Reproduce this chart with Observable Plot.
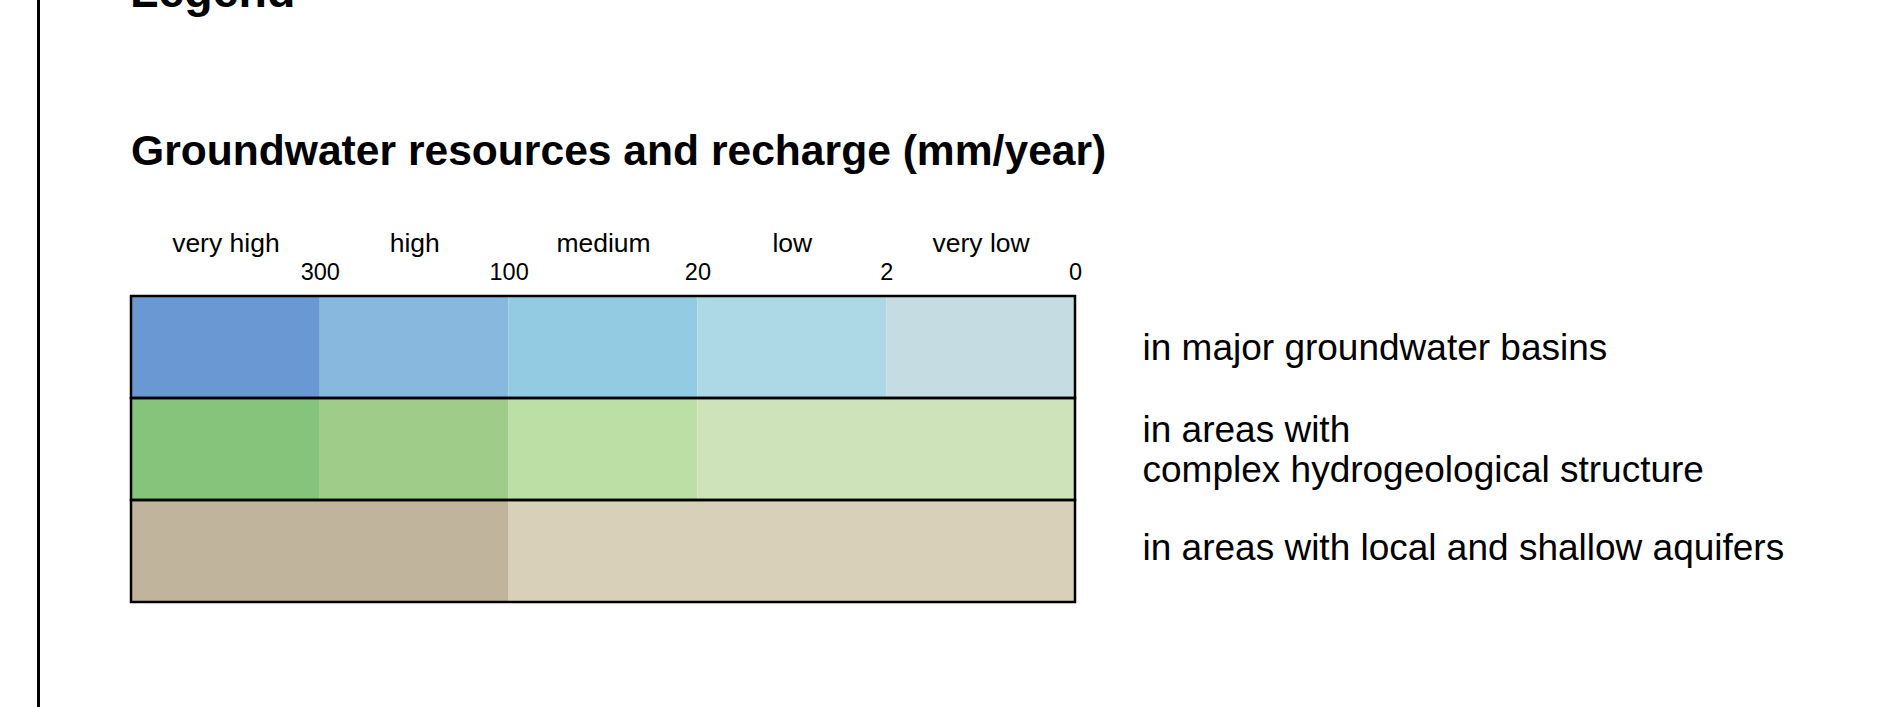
<!DOCTYPE html>
<html>
<head>
<meta charset="utf-8">
<script src="https://cdn.jsdelivr.net/npm/d3@7"></script>
<script src="https://cdn.jsdelivr.net/npm/@observablehq/plot@0.6"></script>
<style>
  html, body { margin: 0; padding: 0; background: #fff; }
  #page { position: relative; width: 1883px; height: 707px; overflow: hidden; font-family: "Liberation Sans", Arial, Helvetica, sans-serif; color: #000; }
  #rule { position: absolute; left: 37px; top: 0; width: 2.5px; height: 707px; background: #000; }
  .head { position: absolute; left: 131px; font-weight: bold; line-height: 1; white-space: nowrap; }
  #legendHead { font-size: 46.5px; top: -32px; left: 130px; }
  #title { font-size: 42.6px; top: 129px; left: 131px; }
  #chart { position: absolute; left: 0; top: 0; }
</style>
</head>
<body>
<div id="page">
  <div id="rule"></div>
  <div id="legendHead" class="head">Legend</div>
  <div id="title" class="head">Groundwater resources and recharge (mm/year)</div>
  <div id="chart"></div>
</div>
<script>
// Recharge classes (columns, left to right) and the class boundaries (mm/year)
const categories = ["very high", "high", "medium", "low", "very low"];
const boundaries = ["300", "100", "20", "2", "0"];

// Hydrogeological settings (rows)
const rows = [
  "in major groundwater basins",
  "in areas with\ncomplex hydrogeological structure",
  "in areas with local and shallow aquifers"
];

// Which classes each coloured cell covers, per row
const basinGroups = [["very high"], ["high"], ["medium"], ["low"], ["very low"]];
const complexGroups = [["very high"], ["high"], ["medium"], ["low", "very low"]];
const localGroups = [["very high", "high"], ["medium", "low", "very low"]];

// Cell colours, per row
const basinColors = ["#6a98d3", "#88b8de", "#93cbe2", "#acd9e5", "#c5dde2"];
const complexColors = ["#86c37b", "#9fcc88", "#bcdfa6", "#cee3b9"];
const localColors = ["#c0b49d", "#d9d0b9"];

const rowGroups = [basinGroups, complexGroups, localGroups];
const rowColors = [basinColors, complexColors, localColors];

const cells = [];
rows.forEach((row, r) => {
  rowGroups[r].forEach((g, k) => {
    cells.push({
      row,
      x1: categories.indexOf(g[0]),
      x2: categories.indexOf(g[g.length - 1]) + 1,
      color: rowColors[r][k]
    });
  });
});

const rowLabelOpts = { x: () => categories.length, y: d => d, text: d => d, dx: 67, textAnchor: "start", lineAnchor: "middle", fontSize: 37, lineHeight: 1.08 };

const chart = Plot.plot({
  width: 1883,
  height: 707,
  marginLeft: 131,
  marginRight: 808,
  marginTop: 295.5,
  marginBottom: 105.5,
  style: { fontFamily: "'Liberation Sans', Arial, Helvetica, sans-serif", color: "#000", background: "transparent" },
  x: { domain: [0, categories.length], axis: null },
  y: { domain: rows, padding: 0, axis: null },
  marks: [
    Plot.barX(cells, { x1: "x1", x2: "x2", y: "row", fill: "color", inset: 0 }),
    Plot.barX(rows, { x1: () => 0, x2: () => categories.length, y: d => d, fill: "none", stroke: "#000", strokeWidth: 2.5, inset: 0 }),
    Plot.text(categories, { x: (d, i) => i + 0.5, text: d => d, frameAnchor: "top", lineAnchor: "bottom", dy: -44, fontSize: 26.5 }),
    Plot.text(boundaries, { x: (d, i) => i + 1, text: d => d, frameAnchor: "top", lineAnchor: "bottom", dy: -16, fontSize: 23.5 }),
    Plot.text(rows, { ...rowLabelOpts, filter: (d, i) => i < 2 }),
    Plot.text(rows, { ...rowLabelOpts, filter: (d, i) => i === 2, dy: -4 })
  ]
});
document.getElementById("chart").appendChild(chart);
</script>
</body>
</html>
